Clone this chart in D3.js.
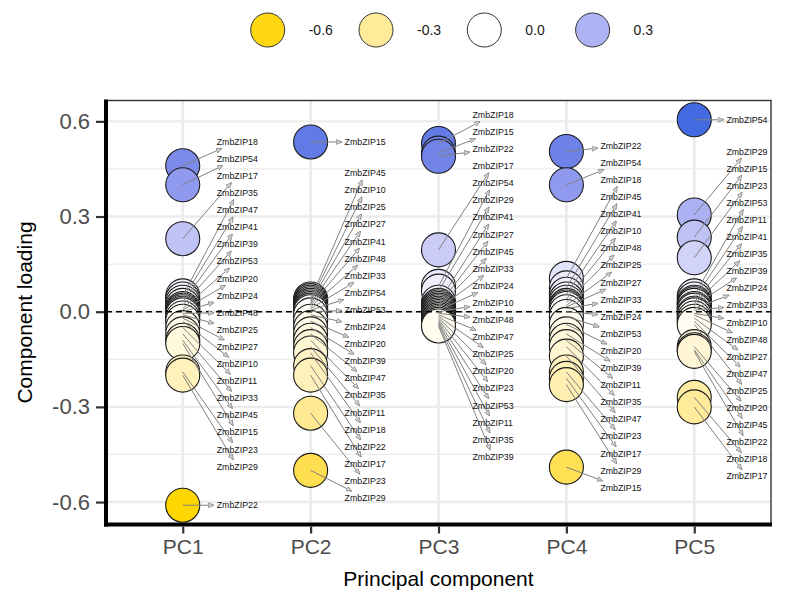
<!DOCTYPE html>
<html><head><meta charset="utf-8">
<script src="https://cdn.jsdelivr.net/npm/d3@7"></script>
<style>body{margin:0;background:#fff;} svg{display:block;font-family:"Liberation Sans",Arial,sans-serif;}</style>
</head><body><svg id="chart" width="794" height="603"></svg>
<script>
// ---------------- data ----------------
const components = ["PC1", "PC2", "PC3", "PC4", "PC5"];
const pc1Genes  = ["ZmbZIP18","ZmbZIP54","ZmbZIP17","ZmbZIP35","ZmbZIP47","ZmbZIP41","ZmbZIP39","ZmbZIP53","ZmbZIP20","ZmbZIP24","ZmbZIP48","ZmbZIP25","ZmbZIP27","ZmbZIP10","ZmbZIP11","ZmbZIP33","ZmbZIP45","ZmbZIP15","ZmbZIP23","ZmbZIP29","ZmbZIP22"];
const pc1Values = [0.46, 0.40, 0.23, 0.05, 0.04, 0.03, 0.02, 0.01, 0.005, 0.0, -0.005, -0.01, -0.02, -0.03, -0.05, -0.07, -0.09, -0.10, -0.19, -0.20, -0.61];
const pc2Genes  = ["ZmbZIP15","ZmbZIP45","ZmbZIP10","ZmbZIP25","ZmbZIP27","ZmbZIP41","ZmbZIP48","ZmbZIP33","ZmbZIP54","ZmbZIP53","ZmbZIP24","ZmbZIP20","ZmbZIP39","ZmbZIP47","ZmbZIP35","ZmbZIP11","ZmbZIP18","ZmbZIP22","ZmbZIP17","ZmbZIP23","ZmbZIP29"];
const pc2Values = [0.535, 0.04, 0.035, 0.03, 0.025, 0.02, 0.015, 0.01, 0.005, 0.0, -0.01, -0.03, -0.05, -0.07, -0.09, -0.11, -0.13, -0.17, -0.20, -0.32, -0.50];
const pc3Genes  = ["ZmbZIP18","ZmbZIP15","ZmbZIP22","ZmbZIP17","ZmbZIP54","ZmbZIP29","ZmbZIP41","ZmbZIP27","ZmbZIP45","ZmbZIP33","ZmbZIP24","ZmbZIP10","ZmbZIP48","ZmbZIP47","ZmbZIP25","ZmbZIP20","ZmbZIP23","ZmbZIP53","ZmbZIP11","ZmbZIP35","ZmbZIP39"];
const pc3Values = [0.53, 0.50, 0.49, 0.195, 0.08, 0.065, 0.03, 0.02, 0.015, 0.01, 0.005, 0.0, -0.005, -0.01, -0.015, -0.02, -0.025, -0.03, -0.035, -0.04, -0.045];
const pc4Genes  = ["ZmbZIP22","ZmbZIP54","ZmbZIP18","ZmbZIP45","ZmbZIP41","ZmbZIP10","ZmbZIP48","ZmbZIP25","ZmbZIP27","ZmbZIP33","ZmbZIP24","ZmbZIP53","ZmbZIP20","ZmbZIP39","ZmbZIP11","ZmbZIP35","ZmbZIP47","ZmbZIP23","ZmbZIP17","ZmbZIP29","ZmbZIP15"];
const pc4Values = [0.505, 0.40, 0.105, 0.075, 0.055, 0.04, 0.03, 0.02, 0.015, 0.01, 0.0, -0.015, -0.04, -0.07, -0.09, -0.11, -0.14, -0.19, -0.21, -0.23, -0.49];
const pc5Genes  = ["ZmbZIP54","ZmbZIP29","ZmbZIP15","ZmbZIP23","ZmbZIP53","ZmbZIP11","ZmbZIP41","ZmbZIP35","ZmbZIP39","ZmbZIP24","ZmbZIP33","ZmbZIP10","ZmbZIP48","ZmbZIP27","ZmbZIP47","ZmbZIP25","ZmbZIP20","ZmbZIP45","ZmbZIP22","ZmbZIP18","ZmbZIP17"];
const pc5Values = [0.605, 0.305, 0.235, 0.17, 0.05, 0.04, 0.03, 0.025, 0.02, 0.01, 0.005, -0.005, -0.01, -0.02, -0.03, -0.04, -0.11, -0.12, -0.125, -0.27, -0.30];
const yTicks = [-0.6, -0.3, 0.0, 0.3, 0.6];
const legendValues = [-0.6, -0.3, 0.0, 0.3];
const xTitle = "Principal component";
const yTitle = "Component loading";

const genesByPC = [pc1Genes, pc2Genes, pc3Genes, pc4Genes, pc5Genes];
const valuesByPC = [pc1Values, pc2Values, pc3Values, pc4Values, pc5Values];
const fmt = v => d3.format(".1f")(v).replace("\u2212", "-");

// ---------------- layout ----------------
const svg = d3.select("#chart");
const panel = {left: 106, right: 771, top: 100.5, bottom: 524.5};
const allValues = [].concat(...valuesByPC);
const ext = d3.extent(allValues);
const padY = (ext[1] - ext[0]) * 0.05;
const y = d3.scaleLinear().domain([ext[0] - padY, ext[1] + padY]).range([panel.bottom, panel.top]);
const x = d3.scalePoint().domain(components).range([panel.left, panel.right]).padding(0.6);
const maxAbs = d3.max(allValues, v => Math.abs(v));
const fill = d3.scaleLinear().domain([-maxAbs, 0, maxAbs])
  .range(["#FFD700", "#FFFFFF", "#4169E1"]).interpolate(d3.interpolateLab).clamp(true);
const R = 17;

svg.append("rect").attr("width", 794).attr("height", 603).attr("fill", "#fff");

// grid
const grid = svg.append("g");
const minor = d3.range(yTicks.length - 1).map(i => (yTicks[i] + yTicks[i + 1]) / 2);
grid.selectAll(".mn").data(minor).join("line")
  .attr("x1", panel.left).attr("x2", panel.right).attr("y1", d => y(d)).attr("y2", d => y(d))
  .attr("stroke", "#ebebeb").attr("stroke-width", 1.2);
grid.selectAll(".mj").data(yTicks).join("line")
  .attr("x1", panel.left).attr("x2", panel.right).attr("y1", d => y(d)).attr("y2", d => y(d))
  .attr("stroke", "#ebebeb").attr("stroke-width", 2.4);
grid.selectAll(".mx").data(components).join("line")
  .attr("x1", d => x(d)).attr("x2", d => x(d)).attr("y1", panel.top).attr("y2", panel.bottom)
  .attr("stroke", "#ebebeb").attr("stroke-width", 2.8);

// points
const points = [];
components.forEach((pc, i) => {
  genesByPC[i].forEach((g, j) => points.push({pc, gene: g, value: valuesByPC[i][j]}));
});
const drawOrder = points.slice().sort((a, b) => d3.descending(a.value, b.value));
svg.append("g").selectAll("circle").data(drawOrder).join("circle")
  .attr("cx", d => x(d.pc)).attr("cy", d => y(d.value)).attr("r", R)
  .attr("fill", d => fill(d.value)).attr("stroke", "#1a1a1a").attr("stroke-width", 1.1);

// zero line
svg.append("line").attr("x1", panel.left).attr("x2", panel.right)
  .attr("y1", y(0)).attr("y2", y(0)).attr("stroke", "#000").attr("stroke-width", 1.4)
  .attr("stroke-dasharray", "6,4");

// arrow marker
const defs = svg.append("defs");
defs.append("marker").attr("id", "ah").attr("viewBox", "0 0 10 10")
  .attr("refX", 9).attr("refY", 5).attr("markerWidth", 6).attr("markerHeight", 6)
  .attr("markerUnits", "userSpaceOnUse").attr("orient", "auto")
  .append("path").attr("d", "M0,1 L10,5 L0,9 Z").attr("fill", "#d0d0d0").attr("stroke", "#808080").attr("stroke-width", 1.2);

// labels with simple 1D repel (min spacing)
const GAP = 17.1, FS = 8.8, BOXPAD = 3;
const segG = svg.append("g"), labG = svg.append("g");
const meas = labG.append("text").attr("font-size", FS).text("ZmbZIP00");
const TW = meas.node().getComputedTextLength();
meas.remove();
const TH = FS * 0.9;

components.forEach((pc, i) => {
  const items = genesByPC[i].map((g, j) => ({gene: g, value: valuesByPC[i][j], px: x(pc), py: y(valuesByPC[i][j])}));
  items.sort((a, b) => a.py - b.py);
  const blocks = [];
  items.forEach(it => {
    blocks.push({items: [it], n: 1, pos: it.py});
    while (blocks.length > 1) {
      const a = blocks[blocks.length - 2], c = blocks[blocks.length - 1];
      if (a.pos + a.n * GAP > c.pos) {
        const its = a.items.concat(c.items);
        let s = 0; its.forEach((d, k) => s += d.py - k * GAP);
        blocks.splice(-2, 2, {items: its, n: its.length, pos: s / its.length});
      } else break;
    }
  });
  blocks.forEach(b => b.items.forEach((d, k) => d.ly = b.pos + k * GAP));
  const lx = Math.min(x(pc) + 34, panel.right - TW - 3.5);
  items.forEach(d => {
    d.lx = lx;
    const cx = lx + TW / 2, cy = d.ly;
    const bx0 = lx - BOXPAD, bx1 = lx + TW + BOXPAD, by0 = cy - TH / 2 - BOXPAD, by1 = cy + TH / 2 + BOXPAD;
    const dx = cx - d.px, dy = cy - d.py;
    let tE = 0;
    if (dx !== 0) { const t1 = (bx0 - d.px) / dx, t2 = (bx1 - d.px) / dx; tE = Math.max(tE, Math.min(t1, t2)); }
    if (dy !== 0) { const t1 = (by0 - d.py) / dy, t2 = (by1 - d.py) / dy; tE = Math.max(tE, Math.min(t1, t2)); }
    if (tE > 0) {
      segG.append("line").attr("x1", d.px).attr("y1", d.py)
        .attr("x2", d.px + tE * dx).attr("y2", d.py + tE * dy)
        .attr("stroke", "#808080").attr("stroke-width", 1).attr("marker-end", "url(#ah)");
    }
  });
  labG.selectAll(null).data(items).join("text")
    .attr("x", d => d.lx).attr("y", d => d.ly).attr("dy", "0.35em")
    .attr("font-size", FS).attr("fill", "#111").text(d => d.gene);
});

// panel border & axes
svg.append("rect").attr("x", panel.left).attr("y", panel.top)
  .attr("width", panel.right - panel.left).attr("height", panel.bottom - panel.top)
  .attr("fill", "none").attr("stroke", "#333").attr("stroke-width", 1.4);
svg.append("line").attr("x1", panel.left).attr("x2", panel.left).attr("y1", panel.top - 1).attr("y2", panel.bottom + 2)
  .attr("stroke", "#000").attr("stroke-width", 4);
svg.append("line").attr("x1", panel.left - 2).attr("x2", panel.right + 1).attr("y1", panel.bottom).attr("y2", panel.bottom)
  .attr("stroke", "#000").attr("stroke-width", 4);

const yAxis = svg.append("g").attr("transform", `translate(${panel.left - 2},0)`)
  .call(d3.axisLeft(y).tickValues(yTicks).tickFormat(fmt).tickSize(8).tickPadding(6));
yAxis.select(".domain").remove();
yAxis.selectAll(".tick line").attr("stroke", "#333").attr("stroke-width", 2.2);
yAxis.selectAll(".tick text").attr("font-size", 22).attr("fill", "#4d4d4d")
  .attr("font-family", "Liberation Sans, Arial, sans-serif");

const xAxis = svg.append("g").attr("transform", `translate(0,${panel.bottom + 2})`)
  .call(d3.axisBottom(x).tickSize(7).tickPadding(6));
xAxis.select(".domain").remove();
xAxis.selectAll(".tick line").attr("stroke", "#333").attr("stroke-width", 2.2);
xAxis.selectAll(".tick text").attr("font-size", 21).attr("fill", "#4d4d4d")
  .attr("font-family", "Liberation Sans, Arial, sans-serif");

svg.append("text").attr("x", (panel.left + panel.right) / 2).attr("y", 586)
  .attr("text-anchor", "middle").attr("font-size", 21).attr("fill", "#000").text(xTitle);
svg.append("text").attr("transform", `translate(32,${(panel.top + panel.bottom) / 2}) rotate(-90)`)
  .attr("text-anchor", "middle").attr("font-size", 21).attr("fill", "#000").text(yTitle);

// legend
const lg = svg.append("g");
const lx0 = 267.7, lstep = 108.3, ly = 30;
legendValues.forEach((v, i) => {
  const g = lg.append("g").attr("transform", `translate(${lx0 + i * lstep},${ly})`);
  g.append("circle").attr("r", R).attr("fill", fill(v)).attr("stroke", "#333").attr("stroke-width", 1);
  g.append("text").attr("x", 41).attr("dy", "0.35em").attr("font-size", 14).attr("fill", "#1a1a1a")
    .text(fmt(v));
});
</script></body></html>
